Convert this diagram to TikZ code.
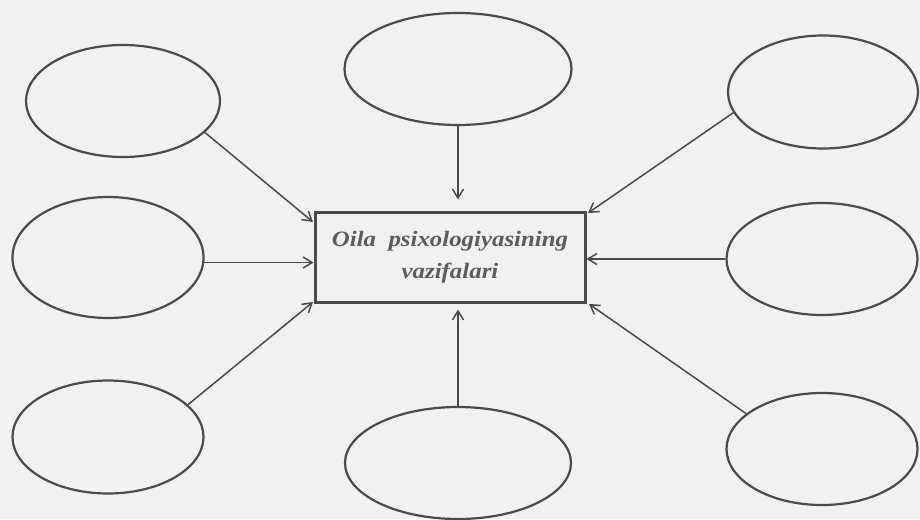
\documentclass[tikz,border=0pt]{standalone}
\usepackage{fontspec}
\setmainfont{Liberation Serif}
\newfontfamily\boxfont[FakeStretch=1.13]{Liberation Serif}
\usetikzlibrary{shapes.geometric,arrows.meta}
\definecolor{ink}{HTML}{4A4A4A}
\definecolor{paper}{HTML}{F1F1F1}
\begin{document}
\begin{tikzpicture}[x=1pt,y=-1pt,
  oval/.style={draw=ink,line width=2.2pt,ellipse,inner sep=0pt},
  mainbox/.style={draw=ink,line width=3pt,minimum width=270pt,minimum height=90pt,inner sep=0pt,align=center,font=\boxfont\fontsize{22}{32}\selectfont\bfseries\itshape,text=ink!90},
  conn/.style={draw=ink,line width=1.5pt,-{Straight Barb[length=9pt,width=11pt,line width=1.5pt]}}]
\fill[paper] (0,0) rectangle (920,519);
\useasboundingbox (0,0) rectangle (920,519);
\node[mainbox] (m) at (450,257) {Oila\ \ psixologiyasining\\vazifalari};
\node[oval,minimum width=194pt,minimum height=112pt] (tl) at (123,101) {};
\node[oval,minimum width=227pt,minimum height=112pt] (tc) at (458,69) {};
\node[oval,minimum width=190pt,minimum height=113pt] (tr) at (823,92) {};
\node[oval,minimum width=191pt,minimum height=121pt] (ml) at (108,257.5) {};
\node[oval,minimum width=191pt,minimum height=112pt] (mr) at (822,259) {};
\node[oval,minimum width=191pt,minimum height=113pt] (bl) at (108,437) {};
\node[oval,minimum width=226pt,minimum height=112pt] (bc) at (458,463) {};
\node[oval,minimum width=191pt,minimum height=112pt] (br) at (822,449) {};
\coordinate (mtl) at (313,222);
\coordinate (mtr) at (588,213);
\coordinate (mbl) at (313,302);
\coordinate (mbr) at (589,304);
\draw[conn] (tl.-21) -- (mtl);
\draw[conn,shorten >=11pt] (tc.south) -- (tc.south |- m.north);
\draw[conn] (tr.-167) -- (mtr);
\draw[conn] (ml.-3) -- (ml.-3 -| m.west);
\draw[conn] (mr.west) -- (mr.west -| m.east);
\draw[conn] (bl.22) -- (mbl);
\draw[conn,shorten >=6pt] (bc.north) -- (bc.north |- m.south);
\draw[conn] (br.155) -- (mbr);
\end{tikzpicture}
\end{document}
